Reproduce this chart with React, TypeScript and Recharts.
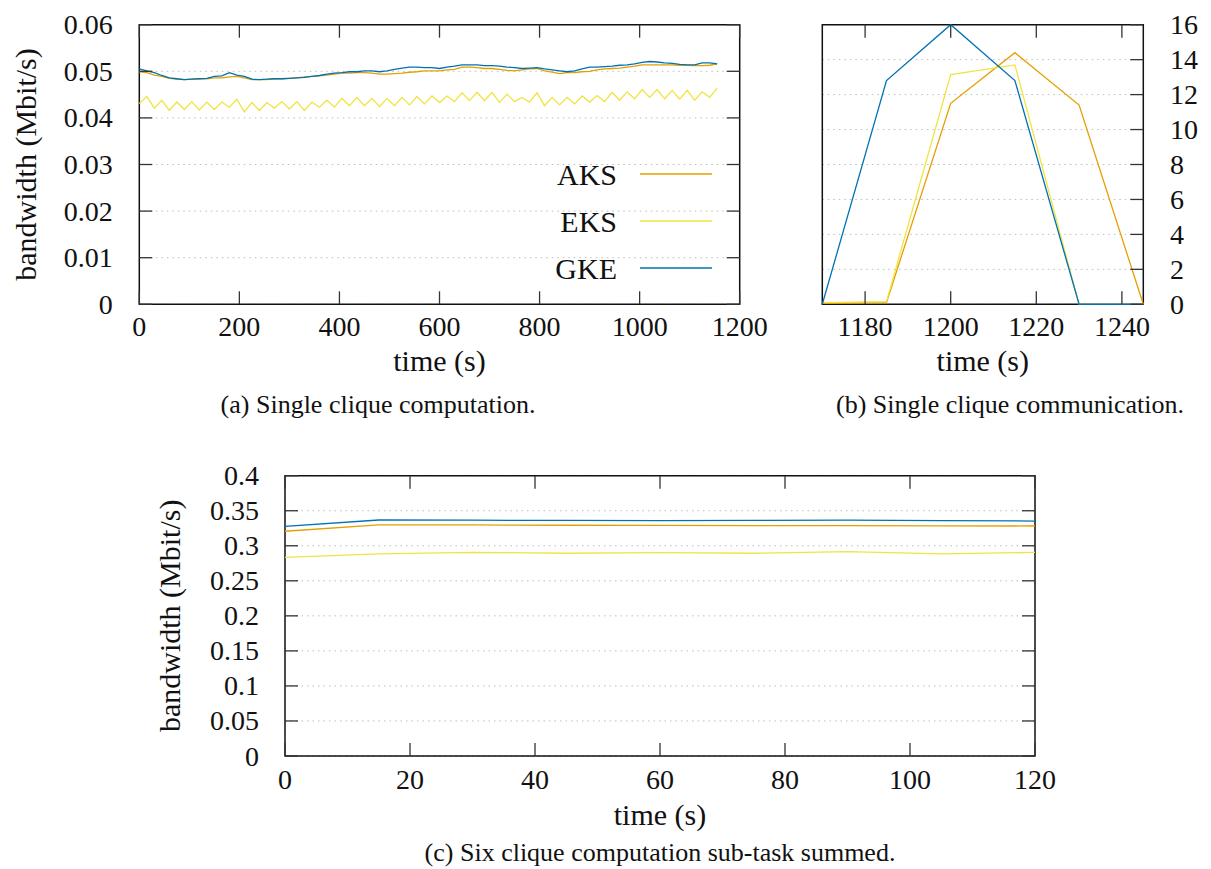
import React from 'react';
import { LineChart, Line, XAxis, YAxis, CartesianGrid, ReferenceArea, Legend, Label } from 'recharts';

const FONT = '"Liberation Serif", "Times New Roman", Times, serif';
const C_AKS = '#E69F00';
const C_EKS = '#F0E442';
const C_GKE = '#0072B2';

// ---------- (a) Single clique computation ----------
const timeA = [0,15,30,45,60,75,90,105,120,135,150,165,180,195,210,225,240,255,270,285,300,315,330,345,360,375,390,405,420,435,450,465,480,495,510,525,540,555,570,585,600,615,630,645,660,675,690,705,720,735,750,765,780,795,810,825,840,855,870,885,900,915,930,945,960,975,990,1005,1020,1035,1050,1065,1080,1095,1110,1125,1140,1155];
const aksA = [0.0499,0.0497,0.0492,0.0489,0.0485,0.0483,0.0482,0.0483,0.0484,0.0484,
  0.0486,0.0486,0.0488,0.0489,0.0486,0.0482,0.0482,0.0482,0.0484,0.0484,
  0.0485,0.0486,0.0488,0.0489,0.0490,0.0492,0.0494,0.0496,0.0496,0.0497,
  0.0497,0.0496,0.0494,0.0494,0.0495,0.0496,0.0498,0.0499,0.0501,0.0501,
  0.0501,0.0503,0.0504,0.0509,0.0509,0.0508,0.0506,0.0506,0.0504,0.0502,
  0.0501,0.0503,0.0505,0.0506,0.0501,0.0498,0.0495,0.0497,0.0497,0.0499,
  0.0500,0.0503,0.0505,0.0506,0.0507,0.0509,0.0511,0.0514,0.0514,0.0514,
  0.0514,0.0514,0.0513,0.0513,0.0512,0.0512,0.0513,0.0516];
const eksA = [0.0431,0.0446,0.0421,0.0438,0.0416,0.0434,0.0418,0.0435,0.0417,0.0434,
  0.0418,0.0434,0.0423,0.0440,0.0413,0.0433,0.0416,0.0433,0.0421,0.0435,
  0.0419,0.0435,0.0416,0.0434,0.0423,0.0438,0.0423,0.0442,0.0426,0.0444,
  0.0426,0.0442,0.0424,0.0442,0.0426,0.0444,0.0428,0.0446,0.0430,0.0447,
  0.0433,0.0447,0.0435,0.0454,0.0437,0.0455,0.0437,0.0455,0.0433,0.0451,
  0.0435,0.0444,0.0434,0.0454,0.0426,0.0444,0.0428,0.0444,0.0430,0.0447,
  0.0434,0.0448,0.0435,0.0455,0.0438,0.0456,0.0441,0.0461,0.0444,0.0461,
  0.0441,0.0459,0.0440,0.0459,0.0438,0.0456,0.0444,0.0464];
const gkeA = [0.0505,0.0501,0.0497,0.0491,0.0486,0.0484,0.0482,0.0483,0.0484,0.0485,
  0.0489,0.0490,0.0497,0.0492,0.0489,0.0483,0.0482,0.0483,0.0484,0.0484,
  0.0485,0.0486,0.0487,0.0489,0.0491,0.0494,0.0496,0.0497,0.0499,0.0499,
  0.0501,0.0501,0.0499,0.0501,0.0504,0.0507,0.0509,0.0509,0.0508,0.0508,
  0.0506,0.0509,0.0511,0.0514,0.0514,0.0514,0.0512,0.0512,0.0511,0.0509,
  0.0508,0.0506,0.0507,0.0508,0.0505,0.0503,0.0501,0.0499,0.0501,0.0505,
  0.0509,0.0509,0.0510,0.0511,0.0513,0.0514,0.0516,0.0519,0.0521,0.0520,
  0.0518,0.0517,0.0515,0.0514,0.0514,0.0518,0.0518,0.0516];
const ticksAX = [0, 200, 400, 600, 800, 1000, 1200];
const ticksAY = [0, 0.01, 0.02, 0.03, 0.04, 0.05, 0.06];

// ---------- (b) Single clique communication ----------
const timeB = [1170, 1185, 1200, 1215, 1230, 1245];
const aksB = [0.05, 0.1, 11.5, 14.4, 11.4, 0];
const eksB = [0.1, 0.15, 13.15, 13.7, 0.0, 0];
const gkeB = [0, 12.8, 16, 12.8, 0, 0];
const ticksBX = [1180, 1200, 1220, 1240];
const ticksBY = [0, 2, 4, 6, 8, 10, 12, 14, 16];

// ---------- (c) Six clique computation sub-task summed ----------
const timeC = [0, 15, 30, 45, 60, 75, 90, 105, 120];
const aksC = [0.3207, 0.3297, 0.3297, 0.3293, 0.3290, 0.3288, 0.3288, 0.3285, 0.3282];
const eksC = [0.2835, 0.2883, 0.2907, 0.2893, 0.2901, 0.2893, 0.2916, 0.2883, 0.2905];
const gkeC = [0.3278, 0.3368, 0.3365, 0.3362, 0.3360, 0.3362, 0.3365, 0.3360, 0.3353];
const ticksCX = [0, 20, 40, 60, 80, 100, 120];
const ticksCY = [0, 0.05, 0.1, 0.15, 0.2, 0.25, 0.3, 0.35, 0.4];

const build = (t: number[], a: number[], e: number[], g: number[]) =>
  t.map((v, i) => ({ t: v, aks: a[i], eks: e[i], gke: g[i] }));

const dataA = build(timeA, aksA, eksA, gkeA);
const dataB = build(timeB, aksB, eksB, gkeB);
const dataC = build(timeC, aksC, eksC, gkeC);

const TICK_FS = 28;
const LABEL_FS = 30;
const TICK_LEN = 13;
const TICK_COLOR = '#333';

type Geo = { top: number; bottom: number; left: number; right: number };

const makeXTick = (M: number, geo: Geo) => (props: any) => {
  const { x, y, payload } = props;
  const yb = y - M;
  return (
    <g>
      <line x1={x} x2={x} y1={yb} y2={yb - TICK_LEN} stroke={TICK_COLOR} strokeWidth={1.3} />
      <line x1={x} x2={x} y1={geo.top} y2={geo.top + TICK_LEN} stroke={TICK_COLOR} strokeWidth={1.3} />
      <text x={x} y={y} textAnchor="middle" dominantBaseline="central" fontFamily={FONT} fontSize={TICK_FS} fill="#111">
        {payload.value}
      </text>
    </g>
  );
};

const makeYTickLeft = (M: number, geo: Geo) => (props: any) => {
  const { x, y, payload } = props;
  const xl = x + M;
  return (
    <g>
      <line x1={xl} x2={xl + TICK_LEN} y1={y} y2={y} stroke={TICK_COLOR} strokeWidth={1.3} />
      <line x1={geo.right - TICK_LEN} x2={geo.right} y1={y} y2={y} stroke={TICK_COLOR} strokeWidth={1.3} />
      <text x={x} y={y} textAnchor="end" dominantBaseline="central" fontFamily={FONT} fontSize={TICK_FS} fill="#111">
        {payload.value}
      </text>
    </g>
  );
};

const makeYTickRight = (M: number) => (props: any) => {
  const { x, y, payload } = props;
  const xr = x - M;
  return (
    <g>
      <line x1={xr - TICK_LEN} x2={xr} y1={y} y2={y} stroke={TICK_COLOR} strokeWidth={1.3} />
      <text x={x} y={y} textAnchor="start" dominantBaseline="central" fontFamily={FONT} fontSize={TICK_FS} fill="#111">
        {payload.value}
      </text>
    </g>
  );
};

const yLabelContent = (text: string, dist: number) => (props: any) => {
  const vb = props.viewBox || {};
  const cx = vb.x + vb.width - dist;
  const cy = vb.y + vb.height / 2;
  return (
    <text x={cx} y={cy} transform={`rotate(-90, ${cx}, ${cy})`} textAnchor="middle" dominantBaseline="central"
      fontFamily={FONT} fontSize={LABEL_FS} fill="#111">{text}</text>
  );
};

const xLabelContent = (text: string, dist: number) => (props: any) => {
  const vb = props.viewBox || {};
  const cx = vb.x + vb.width / 2;
  const cy = vb.y + dist;
  return (
    <text x={cx} y={cy} textAnchor="middle" dominantBaseline="central" fontFamily={FONT} fontSize={LABEL_FS} fill="#111">{text}</text>
  );
};

const renderLegend = (props: any) => {
  const payload = props.payload || [];
  return (
    <div style={{ fontFamily: FONT }}>
      {payload.map((p: any) => (
        <div key={p.value} style={{ display: 'flex', alignItems: 'center', height: 47 }}>
          <span style={{ width: 80, textAlign: 'right', fontSize: 30, color: '#111', lineHeight: '47px' }}>{p.value}</span>
          <svg width={95} height={10} style={{ display: 'block' }}>
            <line x1={23} x2={95} y1={5} y2={5} stroke={p.color} strokeWidth={1.3} />
          </svg>
        </div>
      ))}
    </div>
  );
};

const GRID_DASH = '1.5 4';
const GRID_COLOR = '#bdbdbd';
const LW = 1.3;

const geoA: Geo = { top: 24.7, bottom: 304.3, left: 139.3, right: 739.7 };
const geoB: Geo = { top: 24.7, bottom: 304.3, left: 42.3, right: 363.3 };
const geoC: Geo = { top: 45.7, bottom: 326, left: 285, right: 1035 };

function ChartA() {
  const W = 770, H = 390;
  return (
    <LineChart width={W} height={H} data={dataA}
      margin={{ top: geoA.top, right: W - geoA.right, bottom: 0, left: 0 }}>
      <CartesianGrid horizontal vertical={false} strokeDasharray={GRID_DASH} stroke={GRID_COLOR} />
      <XAxis dataKey="t" type="number" domain={[0, 1200]} ticks={ticksAX} interval={0}
        height={H - geoA.bottom} axisLine={false} tickLine={false} tickSize={0} tickMargin={22}
        tick={makeXTick(22, geoA)}>
        <Label content={xLabelContent('time (s)', 56)} />
      </XAxis>
      <YAxis type="number" domain={[0, 0.06]} ticks={ticksAY} interval={0} width={geoA.left}
        axisLine={false} tickLine={false} tickSize={0} tickMargin={26.6}
        tick={makeYTickLeft(26.6, geoA)}>
        <Label content={yLabelContent('bandwidth (Mbit/s)', 114)} />
      </YAxis>
      <ReferenceArea x1={0} x2={1200} y1={0} y2={0.06} fill="none" stroke="#111" strokeWidth={1.5} />
      <Line dataKey="aks" name="AKS" stroke={C_AKS} strokeWidth={LW} dot={false} isAnimationActive={false} />
      <Line dataKey="eks" name="EKS" stroke={C_EKS} strokeWidth={LW} dot={false} isAnimationActive={false} />
      <Line dataKey="gke" name="GKE" stroke={C_GKE} strokeWidth={LW} dot={false} isAnimationActive={false} />
      <Legend layout="vertical" align="center" verticalAlign="middle" content={renderLegend}
        wrapperStyle={{ position: 'absolute', left: 537, top: 150.5, width: 180, height: 141 }} />
    </LineChart>
  );
}

function ChartB() {
  const W = 431, H = 390;
  return (
    <LineChart width={W} height={H} data={dataB}
      margin={{ top: geoB.top, right: 0, bottom: 0, left: geoB.left }}>
      <CartesianGrid horizontal vertical={false} strokeDasharray={GRID_DASH} stroke={GRID_COLOR} yAxisId="r" />
      <XAxis dataKey="t" type="number" domain={[1170, 1245]} ticks={ticksBX} interval={0}
        height={H - geoB.bottom} axisLine={false} tickLine={false} tickSize={0} tickMargin={22}
        tick={makeXTick(22, geoB)}>
        <Label content={xLabelContent('time (s)', 56)} />
      </XAxis>
      <YAxis yAxisId="r" orientation="right" type="number" domain={[0, 16]} ticks={ticksBY} interval={0}
        width={W - geoB.right} axisLine={false} tickLine={false} tickSize={0} tickMargin={26.7}
        tick={makeYTickRight(26.7)} />
      <ReferenceArea yAxisId="r" x1={1170} x2={1245} y1={0} y2={16} fill="none" stroke="#111" strokeWidth={1.5} />
      <Line yAxisId="r" dataKey="aks" name="AKS" stroke={C_AKS} strokeWidth={LW} dot={false} isAnimationActive={false} />
      <Line yAxisId="r" dataKey="eks" name="EKS" stroke={C_EKS} strokeWidth={LW} dot={false} isAnimationActive={false} />
      <Line yAxisId="r" dataKey="gke" name="GKE" stroke={C_GKE} strokeWidth={LW} dot={false} isAnimationActive={false} />
    </LineChart>
  );
}

function ChartC() {
  const W = 1100, H = 439;
  return (
    <LineChart width={W} height={H} data={dataC}
      margin={{ top: geoC.top, right: W - geoC.right, bottom: 0, left: 0 }}>
      <CartesianGrid horizontal vertical={false} strokeDasharray={GRID_DASH} stroke={GRID_COLOR} />
      <XAxis dataKey="t" type="number" domain={[0, 120]} ticks={ticksCX} interval={0}
        height={H - geoC.bottom} axisLine={false} tickLine={false} tickSize={0} tickMargin={23}
        tick={makeXTick(23, geoC)}>
        <Label content={xLabelContent('time (s)', 58)} />
      </XAxis>
      <YAxis type="number" domain={[0, 0.4]} ticks={ticksCY} interval={0} width={geoC.left}
        axisLine={false} tickLine={false} tickSize={0} tickMargin={26}
        tick={makeYTickLeft(26, geoC)}>
        <Label content={yLabelContent('bandwidth (Mbit/s)', 115)} />
      </YAxis>
      <ReferenceArea x1={0} x2={120} y1={0} y2={0.4} fill="none" stroke="#111" strokeWidth={1.5} />
      <Line dataKey="aks" name="AKS" stroke={C_AKS} strokeWidth={LW} dot={false} isAnimationActive={false} />
      <Line dataKey="eks" name="EKS" stroke={C_EKS} strokeWidth={LW} dot={false} isAnimationActive={false} />
      <Line dataKey="gke" name="GKE" stroke={C_GKE} strokeWidth={LW} dot={false} isAnimationActive={false} />
    </LineChart>
  );
}

const captionStyle = (cx: number, cy: number): React.CSSProperties => ({
  position: 'absolute', left: cx - 300, top: cy - 16, width: 600, height: 32, lineHeight: '32px',
  textAlign: 'center', fontFamily: FONT, fontSize: 26, color: '#111', whiteSpace: 'nowrap',
});

export default function App() {
  return (
    <div style={{ position: 'absolute', left: 0, top: 0, width: 1211, height: 869, background: '#fff', overflow: 'hidden' }}>
      <div style={{ position: 'absolute', left: 0, top: 0 }}><ChartA /></div>
      <div style={{ position: 'absolute', left: 780, top: 0 }}><ChartB /></div>
      <div style={{ position: 'absolute', left: 0, top: 430 }}><ChartC /></div>
      <div style={captionStyle(378, 405)}>(a) Single clique computation.</div>
      <div style={captionStyle(1010, 405)}>(b) Single clique communication.</div>
      <div style={captionStyle(660, 853)}>(c) Six clique computation sub-task summed.</div>
    </div>
  );
}
